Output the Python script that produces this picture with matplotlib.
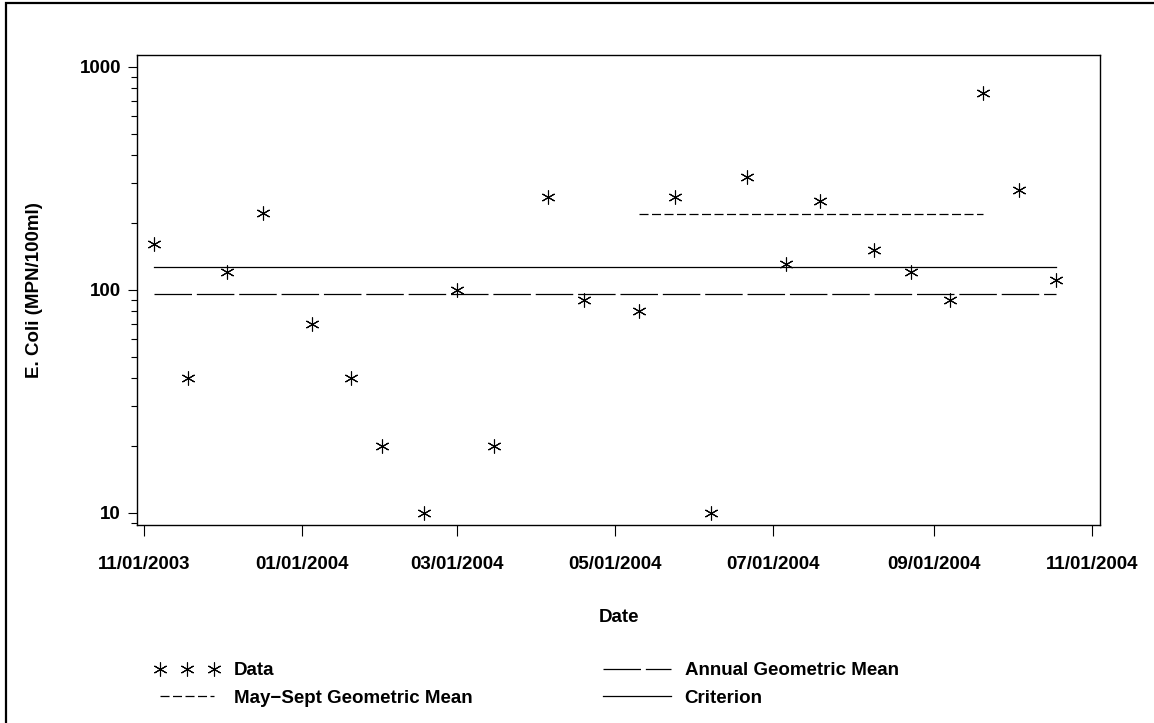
import matplotlib
matplotlib.use('Agg')
import matplotlib.pyplot as plt
import matplotlib.dates as mdates
import matplotlib.ticker as mticker
from matplotlib.lines import Line2D
import numpy as np

plt.rcParams['font.family'] = ['Liberation Sans', 'DejaVu Sans']
plt.rcParams['font.size'] = 13.5
plt.rcParams['font.weight'] = 'bold'
plt.rcParams['lines.scale_dashes'] = False

# sample dates and E. coli counts (MPN/100ml)
dates = ['2003-11-05', '2003-11-18', '2003-12-03', '2003-12-17', '2004-01-05',
         '2004-01-20', '2004-02-01', '2004-02-17', '2004-03-01', '2004-03-15',
         '2004-04-05', '2004-04-19', '2004-05-10', '2004-05-24', '2004-06-07',
         '2004-06-21', '2004-07-06', '2004-07-19', '2004-08-09', '2004-08-23',
         '2004-09-07', '2004-09-20', '2004-10-04', '2004-10-18']
ecoli = [160, 40, 120, 220, 70, 40, 20, 10, 100, 20,
         260, 90, 80, 260, 10, 320, 130, 250, 150, 120,
         90, 760, 280, 110]

criterion = 126
annual_gm = 96
summer_gm = 218
summer_start = '2004-05-10'
summer_end = '2004-09-20'

tick_dates = ['2003-11-01', '2004-01-01', '2004-03-01', '2004-05-01',
              '2004-07-01', '2004-09-01', '2004-11-01']
y_ticks = [10, 100, 1000]

W, H = 1154, 723
fig = plt.figure(figsize=(W / 100, H / 100), dpi=100)
ax = fig.add_axes([137 / W, 1 - 525 / H, 963 / W, 470 / H])

d = np.array(dates, dtype='datetime64[D]')
first, last = d[0], d[-1]

h_data, = ax.plot(d, ecoli, linestyle='none', marker=(6, 2, 0), markersize=10,
                  markeredgewidth=0.8, color='black')
h_annual, = ax.plot([first, last], [annual_gm, annual_gm], color='black',
                    lw=0.9, dashes=(27, 3.5))
h_crit, = ax.plot([first, last], [criterion, criterion], color='black', lw=0.9)
h_summer, = ax.plot(np.array([summer_start, summer_end], dtype='datetime64[D]'),
                    [summer_gm, summer_gm], color='black', lw=0.9,
                    dashes=(6.5, 2.5))

# axes ranges
t0 = mdates.date2num(np.datetime64(tick_dates[0]))
t1 = mdates.date2num(np.datetime64(tick_dates[-1]))
ax.set_xlim(t0 - 2.7, t1 + 3.1)
ax.set_yscale('log')
ax.set_ylim(10 ** 0.9448, 10 ** 3.0525)

ax.set_xticks([mdates.date2num(np.datetime64(t)) for t in tick_dates])
ax.xaxis.set_major_formatter(mdates.DateFormatter('%m/%d/%Y'))
ax.yaxis.set_major_locator(mticker.FixedLocator(y_ticks))
ax.yaxis.set_major_formatter(mticker.FixedFormatter([str(v) for v in y_ticks]))
ax.yaxis.set_minor_locator(mticker.LogLocator(base=10, subs=np.arange(2, 10)))
ax.yaxis.set_minor_formatter(mticker.NullFormatter())

ax.tick_params(axis='x', which='both', direction='out', length=8, width=0.8,
               pad=14, top=False, labelsize=13.5)
ax.tick_params(axis='y', which='major', direction='out', length=6.5, width=0.8,
               pad=5, right=False, labelsize=13.5)
ax.tick_params(axis='y', which='minor', direction='out', length=4.3, width=0.8,
               right=False)
for s in ax.spines.values():
    s.set_linewidth(1.0)

fig.text(35 / W, 1 - 290 / H, 'E. Coli (MPN/100ml)', rotation=90,
         ha='center', va='center')
fig.text(618.5 / W, 1 - 618 / H, 'Date', ha='center', va='center')

leg1 = fig.legend([h_data, h_summer], ['Data', 'May\u2212Sept Geometric Mean'],
                  loc='upper left', bbox_to_anchor=(154 / W, 1 - 662 / H),
                  frameon=False, numpoints=3, handlelength=3.5,
                  handletextpad=0.75, borderpad=0, borderaxespad=0,
                  labelspacing=0.55)
leg2 = fig.legend([h_annual, h_crit], ['Annual Geometric Mean', 'Criterion'],
                  loc='upper left', bbox_to_anchor=(603 / W, 1 - 662 / H),
                  frameon=False, handlelength=3.6, handletextpad=0.75,
                  borderpad=0, borderaxespad=0, labelspacing=0.55)

# outer frame (only top and left visible)
fig.add_artist(Line2D([6 / W, 6 / W, 1.0], [0.0, 1 - 3 / H, 1 - 3 / H],
                      transform=fig.transFigure, color='black', lw=1.6,
                      solid_joinstyle='miter'))

fig.savefig('out.png', dpi=100)
